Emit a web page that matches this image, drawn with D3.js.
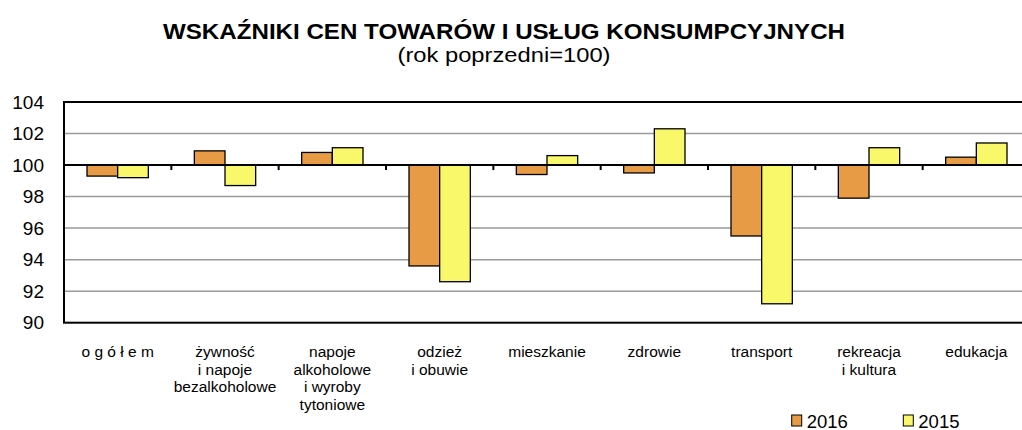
<!DOCTYPE html>
<html>
<head>
<meta charset="utf-8">
<script src="https://cdn.jsdelivr.net/npm/d3@7"></script>
<style>
  body { margin: 0; background: #fff; }
  svg { display: block; font-family: "Liberation Sans", Arial, sans-serif; }
</style>
</head>
<body>
<div class="chart-container"></div>
<script>
// data
var categories = [
    ["o g ó ł e m"],
    ["żywność", "i napoje", "bezalkoholowe"],
    ["napoje", "alkoholowe", "i wyroby", "tytoniowe"],
    ["odzież", "i obuwie"],
    ["mieszkanie"],
    ["zdrowie"],
    ["transport"],
    ["rekreacja", "i kultura"],
    ["edukacja"]
];
var series = ["2016", "2015"];
var values2016 = [99.3, 100.9, 100.8, 93.6, 99.4, 99.5, 95.5, 97.9, 100.5];
var values2015 = [99.2, 98.7, 101.1, 92.6, 100.6, 102.3, 91.2, 101.1, 101.4];
var yTicks = [90, 92, 94, 96, 98, 100, 102, 104];
var colors = ["#E89B45", "#F8F86A"];

draw();

function draw() {
    var drawWidth = 1022, drawHeight = 430;
    // plot area runs past the right edge in the original, so it gets clipped
    var plot = { left: 64, right: 1030, top: 102, bottom: 322.7 };

    var svg = d3.select(".chart-container").append("svg")
        .attr("width", drawWidth)
        .attr("height", drawHeight);

    var idx = d3.range(categories.length);
    var x0 = d3.scaleBand().domain(idx).range([plot.left, plot.right]).padding(0);
    var x1 = d3.scaleBand().domain(series).range([0, x0.bandwidth()])
        .paddingInner(0).paddingOuter(0.75);
    var y = d3.scaleLinear().domain([90, 104]).range([plot.bottom, plot.top]);

    // title (condensed bold in the original)
    svg.append("text")
        .attr("x", 504).attr("y", 39)
        .attr("text-anchor", "middle")
        .attr("font-size", 22.5).attr("font-weight", "bold")
        .attr("textLength", 682).attr("lengthAdjust", "spacingAndGlyphs")
        .text("WSKAŹNIKI CEN TOWARÓW I  USŁUG KONSUMPCYJNYCH");
    svg.append("text")
        .attr("x", 504).attr("y", 62)
        .attr("text-anchor", "middle")
        .attr("font-size", 20.5)
        .attr("textLength", 213).attr("lengthAdjust", "spacingAndGlyphs")
        .text("(rok poprzedni=100)");

    // gridlines
    svg.append("g").selectAll("line")
        .data(yTicks.filter(function (d) { return d !== 90 && d !== 100 && d !== 104; }))
        .enter().append("line")
        .attr("x1", plot.left).attr("x2", plot.right)
        .attr("y1", function (d) { return y(d); })
        .attr("y2", function (d) { return y(d); })
        .attr("stroke", "#9a9a9a").attr("stroke-width", 1.5);

    // y axis labels
    var yAxis = svg.append("g")
        .attr("transform", "translate(" + plot.left + ",0)")
        .call(d3.axisLeft(y).tickValues(yTicks).tickSize(0).tickPadding(20));
    yAxis.select(".domain").remove();
    yAxis.selectAll("text")
        .attr("font-size", 19)
        .attr("font-family", "Liberation Sans, Arial, sans-serif")
        .attr("fill", "#000");

    // bars
    var rows = idx.map(function (i) {
        return [
            { s: "2016", v: values2016[i], c: colors[0] },
            { s: "2015", v: values2015[i], c: colors[1] }
        ];
    });
    svg.append("g").selectAll("g")
        .data(rows)
        .enter().append("g")
            .attr("transform", function (d, i) { return "translate(" + x0(i) + ",0)"; })
        .selectAll("rect")
        .data(function (d) { return d; })
        .enter().append("rect")
            .attr("x", function (d) { return x1(d.s); })
            .attr("width", x1.bandwidth())
            .attr("y", function (d) { return y(Math.max(d.v, 100)); })
            .attr("height", function (d) { return Math.abs(y(d.v) - y(100)); })
            .attr("fill", function (d) { return d.c; })
            .attr("stroke", "#000").attr("stroke-width", 1.3);

    // plot border (top, left, bottom)
    svg.append("rect")
        .attr("x", plot.left).attr("y", plot.top)
        .attr("width", plot.right - plot.left).attr("height", plot.bottom - plot.top)
        .attr("fill", "none").attr("stroke", "#000").attr("stroke-width", 2);

    // baseline at 100 with category ticks
    svg.append("line")
        .attr("x1", plot.left).attr("x2", plot.right)
        .attr("y1", y(100)).attr("y2", y(100))
        .attr("stroke", "#000").attr("stroke-width", 2);
    svg.append("g").selectAll("line")
        .data(idx.slice(1))
        .enter().append("line")
        .attr("x1", function (i) { return x0(i); })
        .attr("x2", function (i) { return x0(i); })
        .attr("y1", y(100)).attr("y2", y(100) + 5)
        .attr("stroke", "#000").attr("stroke-width", 2);

    // category labels
    var labels = svg.append("g").selectAll("text")
        .data(categories)
        .enter().append("text")
        .attr("text-anchor", "middle")
        .attr("font-size", 15.5)
        .attr("y", 356.7);
    labels.selectAll("tspan")
        .data(function (d, i) { return d.map(function (t) { return { t: t, i: i }; }); })
        .enter().append("tspan")
        .attr("x", function (d) { return x0(d.i) + x0.bandwidth() / 2; })
        .attr("dy", function (d, j) { return j === 0 ? 0 : 17.8; })
        .text(function (d) { return d.t; });

    // legend
    var legendX = [791.7, 903.3];
    var legend = svg.append("g").selectAll("g")
        .data(series)
        .enter().append("g")
        .attr("transform", function (d, i) { return "translate(" + legendX[i] + ",415)"; });
    legend.append("rect")
        .attr("width", 10).attr("height", 11)
        .attr("fill", function (d, i) { return colors[i]; })
        .attr("stroke", "#000").attr("stroke-width", 1);
    legend.append("text")
        .attr("x", 15).attr("y", 12.5)
        .attr("font-size", 18.5)
        .text(function (d) { return d; });
}
</script>
</body>
</html>
